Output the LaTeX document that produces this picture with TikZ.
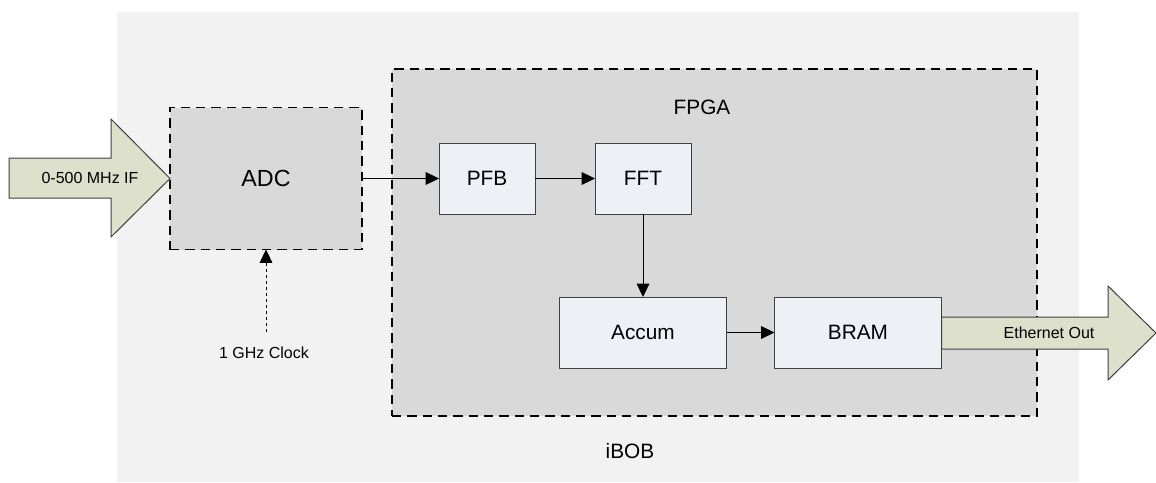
\documentclass[tikz,border=0pt]{standalone}
\usepackage{fontspec}
\setmainfont{Liberation Sans}
\usepackage{xcolor}
\usetikzlibrary{arrows.meta,positioning}
\definecolor{ibobgray}{HTML}{F2F2F2}
\definecolor{fpgagray}{HTML}{D9D9D9}
\definecolor{boxfill}{HTML}{EDF0F5}
\definecolor{boxline}{HTML}{404040}
\definecolor{arrowfill}{HTML}{DDE0CB}

\begin{document}
\begin{tikzpicture}[
  x=0.75pt, y=-0.75pt,
  node distance=45pt,
  region/.style={rectangle, draw=black, dash pattern=on 7pt off 4.5pt,
    line width=1.4pt, fill=fpgagray, outer sep=0pt},
  block/.style={rectangle, draw=boxline, line width=0.75pt, fill=boxfill,
    minimum height=53.25pt, outer sep=0pt, font=\fontsize{15.6}{18}\selectfont},
  bigarrow/.style={draw=boxline, line width=0.75pt, fill=arrowfill},
  title/.style={font=\fontsize{15.6}{18}\selectfont},
  lbl/.style={font=\fontsize{12}{14}\selectfont},
  arr/.style={-{Triangle[length=10pt,width=9.5pt]}, line width=0.75pt},
  clkarr/.style={arr, dash pattern=on 2.25pt off 2.25pt}
]
\useasboundingbox (0,0) rectangle (1156,482);
% iBOB board
\fill[ibobgray] (117,12) rectangle (1079,482);
\node[title] (iboblbl) at (630,451) {iBOB};

% ADC and FPGA
\node[region, minimum width=144pt, minimum height=106.5pt,
  font=\fontsize{17.5}{20}\selectfont] (adc) at (266,178.5) {ADC};
\node[region, minimum width=483.75pt, minimum height=260.25pt] (fpga) at (714.5,242.5) {};
\node[title] (fpgalbl) at (702,107) {FPGA};

% processing chain
\node[block, minimum width=72pt] (pfb) at (487,178.5) {PFB};
\node[block, minimum width=72pt, right=of pfb] (fft) {FFT};
\node[block, minimum width=125.25pt, below=62.25pt of fft] (accum) {Accum};
\node[block, minimum width=125.25pt, right=36pt of accum] (bram) {BRAM};

\draw[arr] (adc)--(pfb); \draw[arr] (pfb)--(fft);
\draw[arr] (fft)--(accum); \draw[arr] (accum)--(bram);

% clock input
\node[lbl] (clk) at (264,353) {1 GHz Clock};
\coordinate (clkin) at (266,332);
\draw[clkarr] (clkin)--(adc.south);

% IF input and ethernet output
\draw[bigarrow] (9,158) -- (111,158) -- (111,119) -- (adc.west)
  -- (111,237) -- (111,198) -- (9,198) -- cycle;
\node[lbl] (iflbl) at (90,178) {0-500 MHz IF};
\draw[bigarrow] (bram.east |- 0,317) -- (1108,317) -- (1108,286) -- (1156,333)
  -- (1108,380) -- (1108,349) -- (bram.east |- 0,349) -- cycle;
\node[lbl] (ethlbl) at (1049,333) {Ethernet Out};
\end{tikzpicture}
\end{document}
